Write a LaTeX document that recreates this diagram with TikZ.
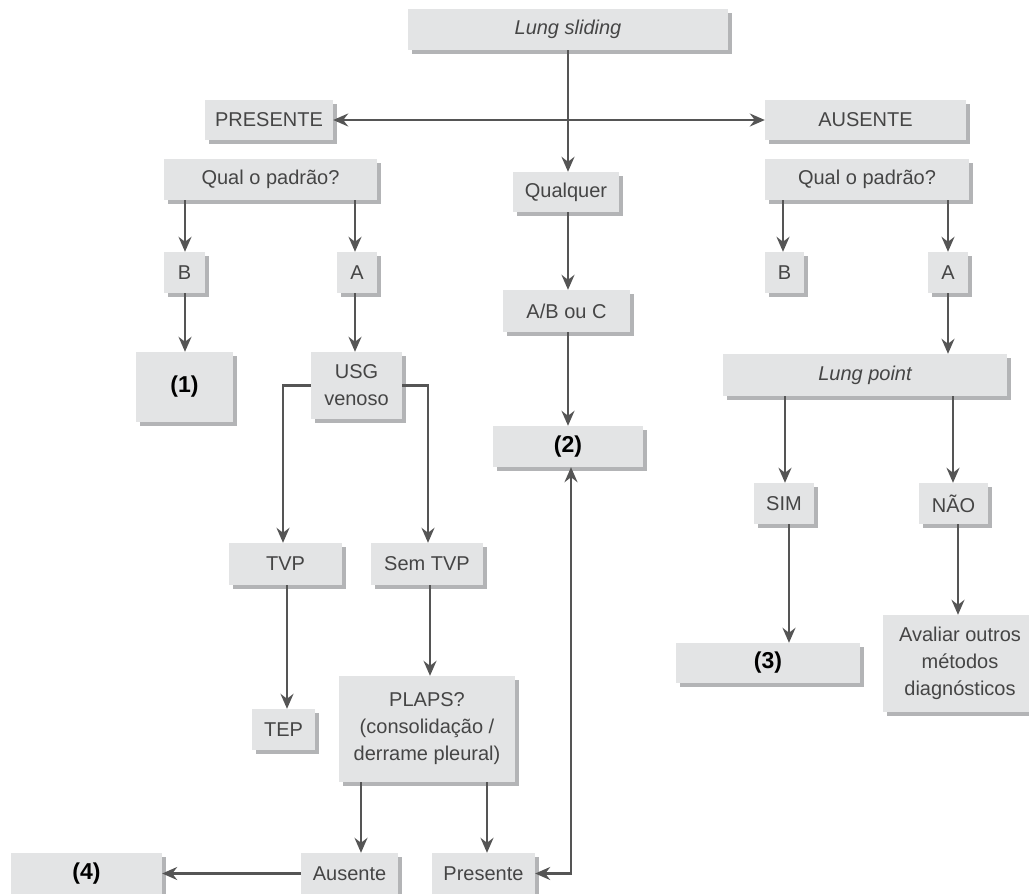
\documentclass[tikz,border=0pt]{standalone}
\usepackage{fontspec}
\setmainfont{Liberation Sans}
\usetikzlibrary{arrows.meta,shadows,calc}
\definecolor{boxfill}{HTML}{E3E4E5}
\definecolor{boxshadow}{HTML}{B3B4B6}
\definecolor{txtgray}{HTML}{454545}
\definecolor{conngray}{HTML}{555555}
\begin{document}
\begin{tikzpicture}[x=1pt,y=-1pt,
  box/.style={fill=boxfill, draw=none, text=txtgray, font=\fontsize{20}{27}\selectfont,
    align=center, inner sep=0pt,
    drop shadow={shadow xshift=4pt, shadow yshift=-4pt, fill=boxshadow, opacity=1}},
  sz/.style n args={2}{minimum width=#1pt, minimum height=#2pt},
  bnum/.style={box, font=\fontsize{23}{26}\selectfont\bfseries, text=black},
  conn/.style={draw=conngray, line width=2.2pt, -{Stealth[length=15pt,width=13pt,inset=5pt]}},
  conn2/.style={conn, {Stealth[length=15pt,width=13pt,inset=5pt]}-{Stealth[length=15pt,width=13pt,inset=5pt]}}
]
\useasboundingbox (0,0) rectangle (1029,894);
% nodes
\node[box, sz={320}{41}] (ls) at (568,29.5) {\itshape Lung sliding};
\node[box, sz={128}{40}] (pres) at (269,120) {PRESENTE};
\node[box, sz={201}{40}] (aus) at (865.5,120) {AUSENTE};
\node[box, sz={213}{41}] (qpL) at (270.5,179.5) {Qual o padrão?};
\node[box, sz={204}{41}] (qpR) at (867,179.5) {Qual o padrão?};
\node[box, sz={106}{40}] (qual) at (566,192) {Qualquer};
\node[box, sz={41}{41}] (bL) at (184.5,272.5) {B};
\node[box, sz={40}{41}] (aL) at (357,272.5) {A};
\node[box, sz={39}{41}] (bR) at (784.5,272.5) {B};
\node[box, sz={40}{41}] (aR) at (948,272.5) {A};
\node[box, sz={127}{42}] (abc) at (566.5,311) {A/B ou C};
\node[bnum, sz={97}{70}] (one) at (184.5,387) {(1)};
\node[box, sz={91}{67}] (usg) at (356.5,385.5) {USG\\venoso};
\node[box, sz={284}{42}] (lp) at (865,375) {\itshape Lung point};
\node[bnum, sz={150}{41}] (two) at (568,446.5) {(2)};
\node[box, sz={60}{41}] (sim) at (784,503.5) {SIM};
\node[box, sz={69}{41}] (nao) at (953.5,503.5) {NÃO};
\node[box, sz={113}{42}] (tvp) at (285.5,564) {TVP};
\node[box, sz={112}{42}] (semtvp) at (427,564) {Sem TVP};
\node[bnum, sz={184}{40}] (three) at (768,663) {(3)};
\node[box, sz={154}{97}] (aval) at (960,663.5) {Avaliar outros\\métodos\\diagnósticos};
\node[box, sz={63}{41}] (tep) at (283.5,729.5) {TEP};
\node[box, sz={176}{106}] (plaps) at (427,729) {PLAPS?\\(consolidação /\\derrame pleural)};
\node[bnum, sz={151}{41}] (four) at (86.5,873.5) {(4)};
\node[box, sz={97}{41}] (ause) at (349.5,873.5) {Ausente};
\node[box, sz={103}{41}] (presb) at (483.5,873.5) {Presente};
% helper coordinates
\coordinate (xA) at (185,0);
\coordinate (xB) at (355,0);
\coordinate (xC) at (783,0);
\coordinate (xD) at (948,0);
\coordinate (xE) at (785,0);
\coordinate (xF) at (953,0);
\coordinate (xG) at (789,0);
\coordinate (xH) at (958,0);
\coordinate (xI) at (361,0);
\coordinate (xJ) at (487,0);
\coordinate (xK) at (571,0);
\coordinate (xL) at (283,0);
\coordinate (xM) at (428,0);
\coordinate (xN) at (287,0);
\coordinate (xO) at (430,0);
% connectors
\draw[conn] (ls.south) -- (ls.south |- qual.north);
\draw[conn2] (pres.east) -- (aus.west);
\draw[conn] (qpL.south -| xA) -- (bL.north -| xA);
\draw[conn] (qpL.south -| xB) -- (aL.north -| xB);
\draw[conn] (qpR.south -| xC) -- (bR.north -| xC);
\draw[conn] (qpR.south -| xD) -- (aR.north -| xD);
\draw[conn] (bL.south -| xA) -- (one.north -| xA);
\draw[conn] (aL.south -| xB) -- (usg.north -| xB);
\draw[conn] (qual.south -| ls.south) -- (abc.north -| ls.south);
\draw[conn] (abc.south -| ls.south) -- (two.north -| ls.south);
\draw[conn] (aR.south -| xD) -- (lp.north -| xD);
\draw[conn] (usg.west) -| (tvp.north -| xL);
\draw[conn] (usg.east) -| (semtvp.north -| xM);
\draw[conn] (lp.south -| xE) -- (sim.north -| xE);
\draw[conn] (lp.south -| xF) -- (nao.north -| xF);
\draw[conn] (tvp.south -| xN) -- (tep.north -| xN);
\draw[conn] (semtvp.south -| xO) -- (plaps.north -| xO);
\draw[conn] (sim.south -| xG) -- (three.north -| xG);
\draw[conn] (nao.south -| xH) -- (aval.north -| xH);
\draw[conn] (plaps.south -| xI) -- (ause.north -| xI);
\draw[conn] (plaps.south -| xJ) -- (presb.north -| xJ);
\draw[conn] (ause.west) -- (four.east);
\draw[conn2] (presb.east) -| (two.south -| xK);
\end{tikzpicture}
\end{document}
